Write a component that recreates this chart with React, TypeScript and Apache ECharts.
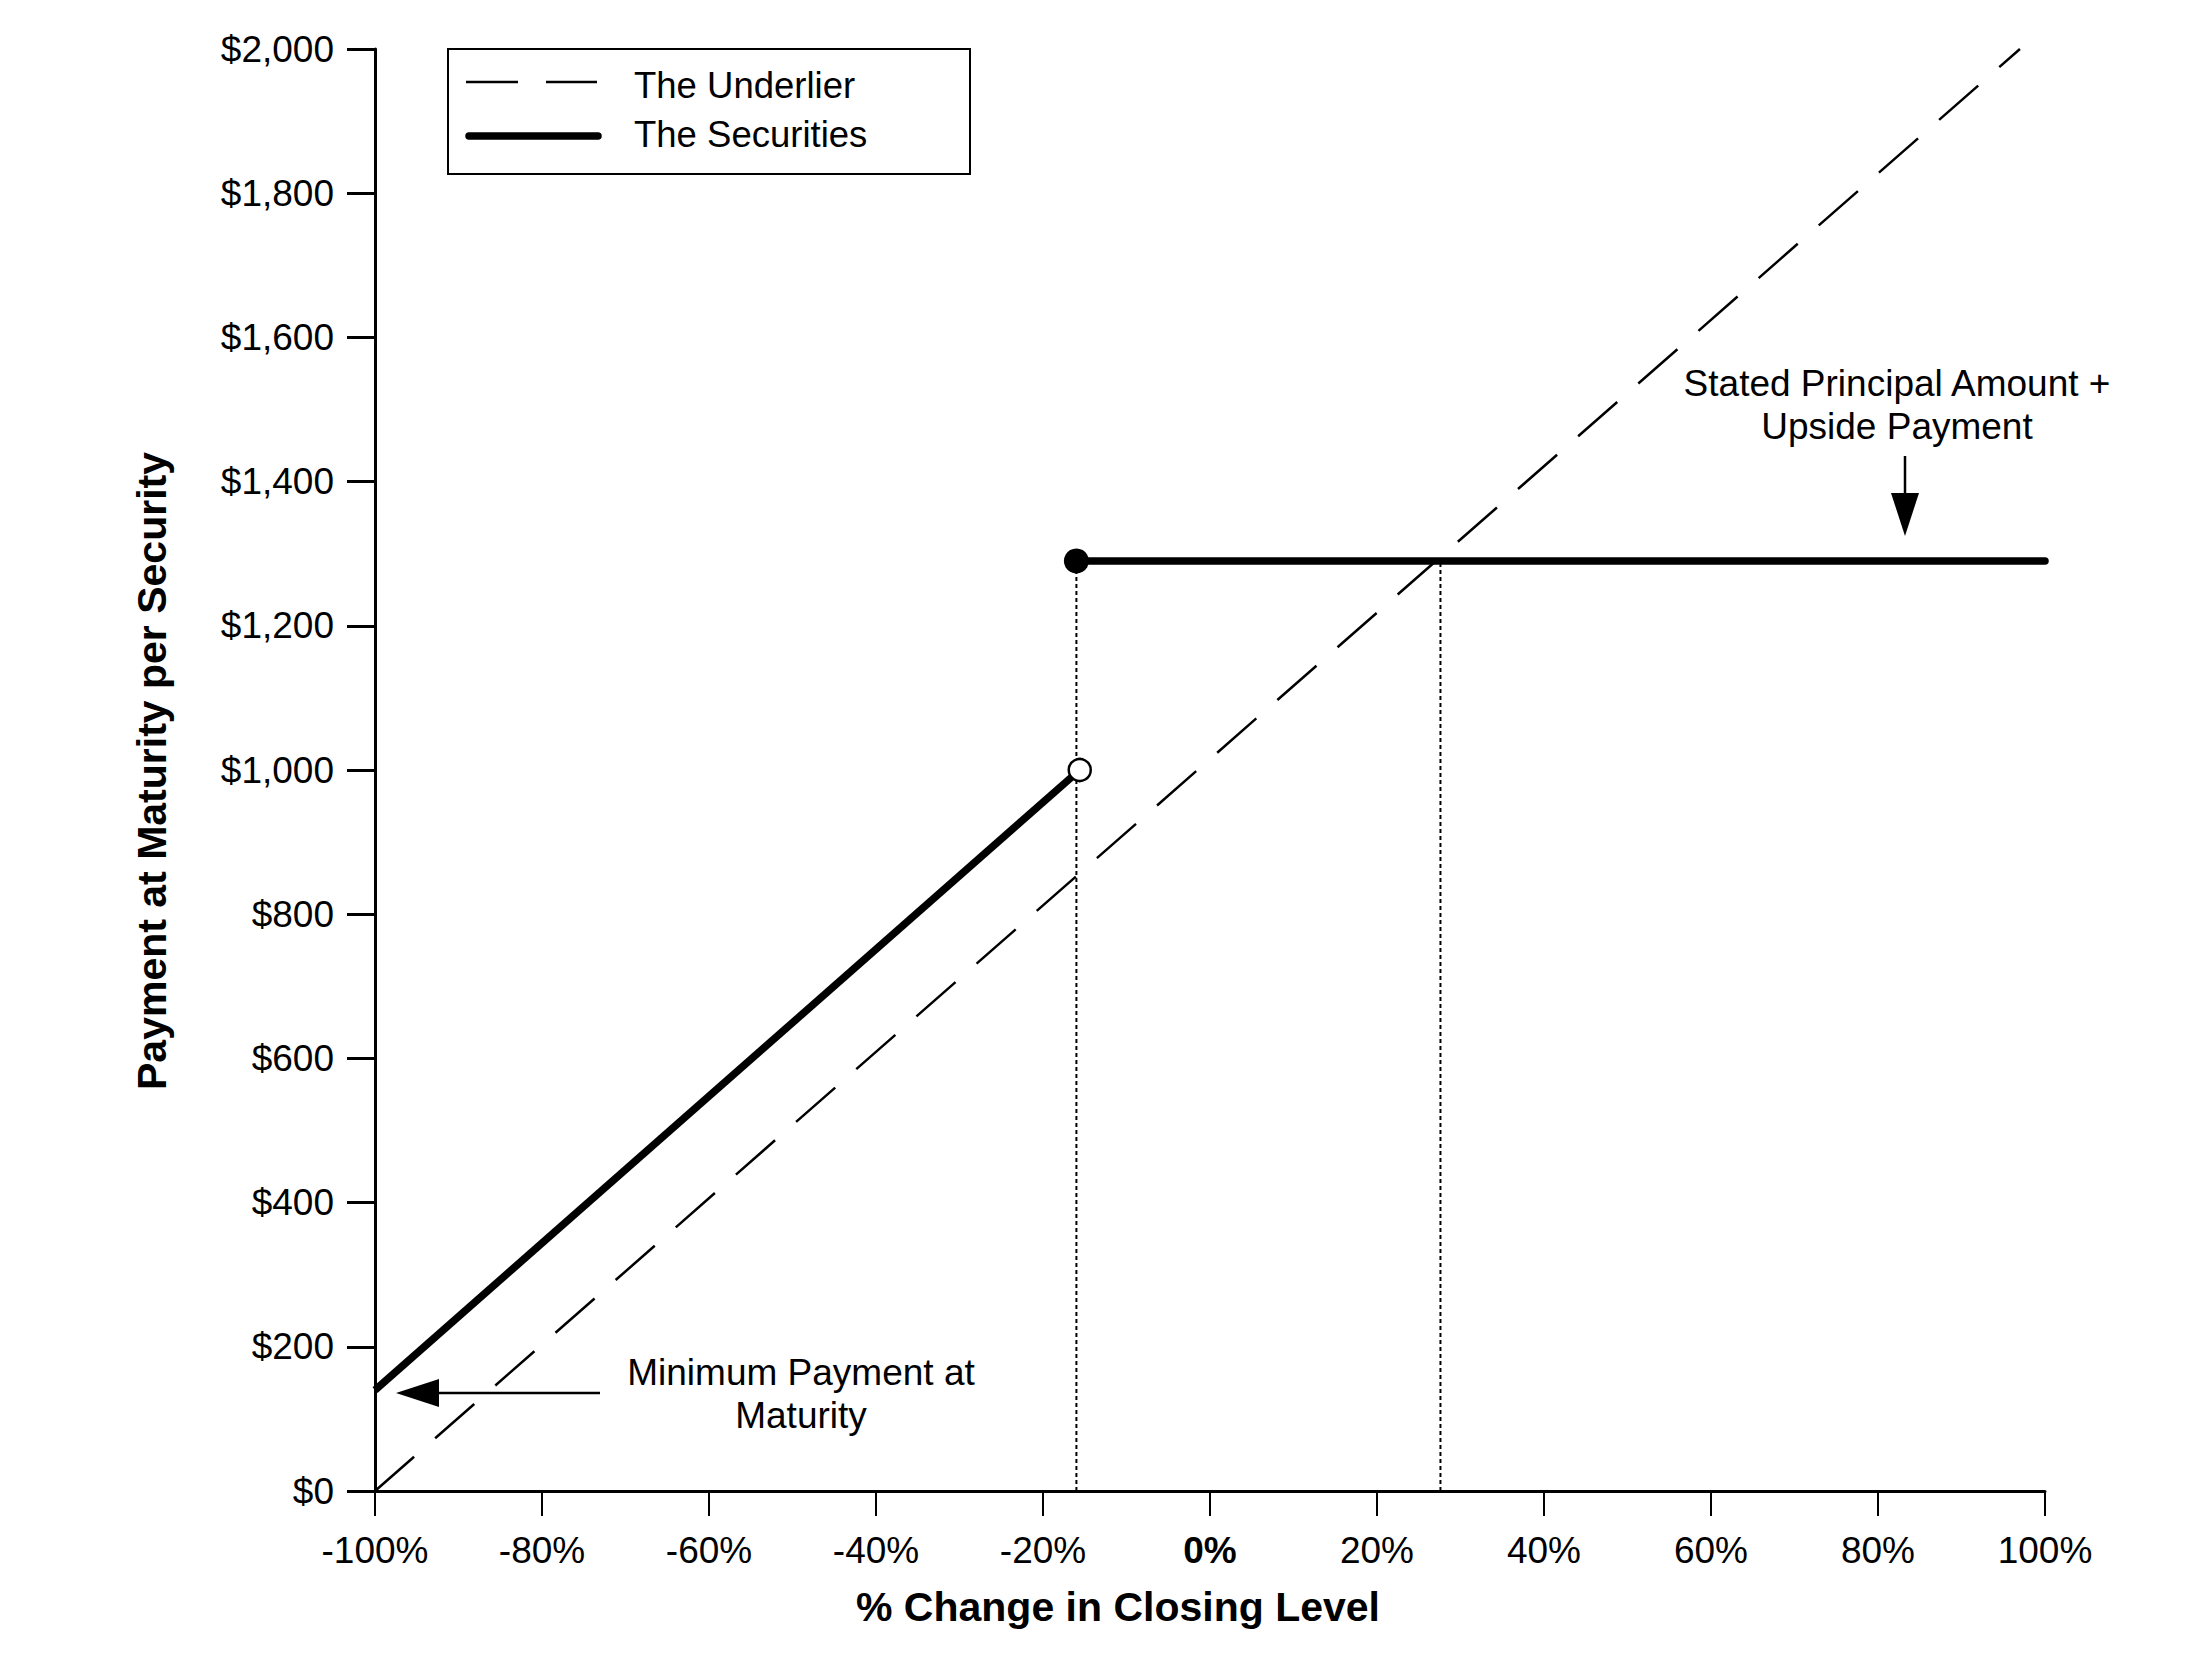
import React, { useEffect, useRef } from "react";
import * as echarts from "echarts";

// ---- Data ----
const xTickValues = [-100, -80, -60, -40, -20, 0, 20, 40, 60, 80, 100];
const yTickValues = [0, 200, 400, 600, 800, 1000, 1200, 1400, 1600, 1800, 2000];

const underlierX = [-100, 97];
const underlierY = [0, 2000];

const securitiesLowX = [-100, -15.6];
const securitiesLowY = [140, 1000];

const securitiesCapX = [-16, 100];
const securitiesCapY = [1290, 1290];

const thresholdX = [-16, 27.6];
const thresholdTopY = [1290, 1290];

const seriesNames = ["The Underlier", "The Securities"];

const FONT = "'Liberation Sans', Arial, 'DejaVu Sans', sans-serif";

function zip(xs: number[], ys: number[]) {
  return xs.map((x, i) => [x, ys[i]]);
}

export default function App() {
  const ref = useRef<HTMLDivElement>(null);

  useEffect(() => {
    if (!ref.current) return;
    const chart = echarts.init(ref.current, undefined, { renderer: "svg" });

    const dottedSeries = thresholdX.map((x, i) => ({
      type: "line",
      data: [
        [x, 0],
        [x, thresholdTopY[i]],
      ],
      symbol: "none",
      silent: true,
      z: 1,
      lineStyle: { color: "#000", width: 2, type: [4, 3] },
    }));

    const option: any = {
      animation: false,
      backgroundColor: "#fff",
      grid: { left: 375, right: 159, top: 49, bottom: 173, containLabel: false },
      xAxis: {
        type: "value",
        min: -100,
        max: 100,
        interval: 20,
        axisLine: { show: true, onZero: false, lineStyle: { color: "#000", width: 3 } },
        axisTick: { show: true, inside: false, length: 25, lineStyle: { color: "#000", width: 2 } },
        splitLine: { show: false },
        axisLabel: {
          margin: 41,
          fontSize: 37,
          color: "#000",
          fontFamily: FONT,
          formatter: (v: number) =>
            xTickValues.indexOf(v) === -1 ? "" : v === 0 ? "{b|0%}" : v + "%",
          rich: {
            b: { fontWeight: "bold", fontSize: 37, fontFamily: FONT, color: "#000" },
          },
        },
      },
      yAxis: {
        type: "value",
        min: 0,
        max: 2000,
        interval: 200,
        axisLine: { show: true, onZero: false, lineStyle: { color: "#000", width: 3 } },
        axisTick: { show: true, inside: false, length: 28, lineStyle: { color: "#000", width: 3 } },
        splitLine: { show: false },
        axisLabel: {
          margin: 41,
          fontSize: 37,
          color: "#000",
          fontFamily: FONT,
          formatter: (v: number) =>
            yTickValues.indexOf(v) === -1 ? "" : "$" + v.toLocaleString("en-US"),
        },
      },
      series: [
        ...dottedSeries,
        {
          name: seriesNames[0],
          type: "line",
          data: zip(underlierX, underlierY),
          symbol: "none",
          z: 2,
          clip: false,
          lineStyle: { color: "#000", width: 2.5, type: [52, 28] },
        },
        {
          name: seriesNames[1],
          type: "line",
          data: zip(securitiesLowX, securitiesLowY),
          symbol: "none",
          z: 3,
          clip: false,
          lineStyle: { color: "#000", width: 7.5, cap: "butt" },
        },
        {
          name: seriesNames[1],
          type: "line",
          data: zip(securitiesCapX, securitiesCapY),
          symbol: "none",
          z: 3,
          clip: false,
          lineStyle: { color: "#000", width: 7.5, cap: "round" },
        },
        {
          type: "scatter",
          data: [[securitiesCapX[0], securitiesCapY[0]]],
          symbol: "circle",
          symbolSize: 25,
          z: 5,
          itemStyle: { color: "#000", opacity: 1 },
        },
        {
          type: "scatter",
          data: [[securitiesLowX[1], securitiesLowY[1]]],
          symbol: "circle",
          symbolSize: 22,
          z: 5,
          itemStyle: { color: "#fff", borderColor: "#000", borderWidth: 2.5, opacity: 1 },
        },
      ],
      graphic: [
        // Legend box
        {
          type: "rect",
          shape: { x: 448, y: 49, width: 522, height: 125 },
          style: { fill: "#fff", stroke: "#000", lineWidth: 2 },
          z: 10,
        },
        {
          type: "line",
          shape: { x1: 466, y1: 82, x2: 597, y2: 82 },
          style: { stroke: "#000", lineWidth: 2.5, lineDash: [52, 28] },
          z: 11,
        },
        {
          type: "line",
          shape: { x1: 469, y1: 136, x2: 598, y2: 136 },
          style: { stroke: "#000", lineWidth: 7.5, lineCap: "round" },
          z: 11,
        },
        {
          type: "text",
          x: 634,
          y: 85,
          style: {
            text: seriesNames[0],
            fontSize: 36.5,
            fontFamily: FONT,
            fill: "#000",
            align: "left",
            verticalAlign: "middle",
          },
          z: 11,
        },
        {
          type: "text",
          x: 634,
          y: 134,
          style: {
            text: seriesNames[1],
            fontSize: 36.5,
            fontFamily: FONT,
            fill: "#000",
            align: "left",
            verticalAlign: "middle",
          },
          z: 11,
        },
        // Axis titles
        {
          type: "text",
          x: 152,
          y: 771,
          rotation: Math.PI / 2,
          style: {
            text: "Payment at Maturity per Security",
            fontSize: 41,
            fontWeight: "bold",
            fontFamily: FONT,
            fill: "#000",
            align: "center",
            verticalAlign: "middle",
          },
        },
        {
          type: "text",
          x: 1118,
          y: 1607,
          style: {
            text: "% Change in Closing Level",
            fontSize: 41,
            fontWeight: "bold",
            fontFamily: FONT,
            fill: "#000",
            align: "center",
            verticalAlign: "middle",
          },
        },
        // Annotation: cap
        {
          type: "text",
          x: 1897,
          y: 405,
          style: {
            text: "Stated Principal Amount +\nUpside Payment",
            fontSize: 37,
            lineHeight: 43,
            fontFamily: FONT,
            fill: "#000",
            align: "center",
            verticalAlign: "middle",
          },
        },
        {
          type: "line",
          shape: { x1: 1905, y1: 456, x2: 1905, y2: 496 },
          style: { stroke: "#000", lineWidth: 2.5 },
        },
        {
          type: "polygon",
          shape: { points: [[1891, 493], [1919, 493], [1905, 536]] },
          style: { fill: "#000" },
        },
        // Annotation: minimum payment
        {
          type: "text",
          x: 801,
          y: 1394,
          style: {
            text: "Minimum Payment at\nMaturity",
            fontSize: 37,
            lineHeight: 43,
            fontFamily: FONT,
            fill: "#000",
            align: "center",
            verticalAlign: "middle",
          },
        },
        {
          type: "line",
          shape: { x1: 600, y1: 1393, x2: 436, y2: 1393 },
          style: { stroke: "#000", lineWidth: 2.5 },
        },
        {
          type: "polygon",
          shape: { points: [[396, 1393], [439, 1379], [439, 1407]] },
          style: { fill: "#000" },
        },
      ],
    };

    chart.setOption(option);
    return () => chart.dispose();
  }, []);

  return (
    <div
      ref={ref}
      style={{ position: "absolute", left: 0, top: 0, width: 2204, height: 1664, background: "#fff" }}
    />
  );
}
